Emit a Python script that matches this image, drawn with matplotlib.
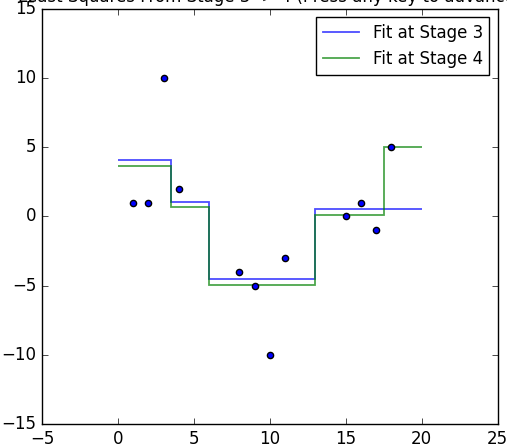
import matplotlib
matplotlib.use("Agg")
import matplotlib.pyplot as plt
import numpy as np

plt.style.use('classic')

x_pts = [1, 2, 3, 4, 8, 9, 10, 11, 15, 16, 17, 18]
y_pts = [1, 1, 10, 2, -4, -5, -10, -3, 0, 1, -1, 5]

edges3 = [0, 3.5, 6, 13, 20]
levels3 = [4.05, 1.05, -4.55, 0.52]
edges4 = [0, 3.5, 6, 13, 17.5, 20]
levels4 = [3.62, 0.7, -4.97, 0.12, 5.02]

fig = plt.figure(figsize=(5.07, 4.44), dpi=100, facecolor='white')
ax = fig.add_axes([0.0828, 0.045, 0.899, 0.935])
ax.set_facecolor('white')

ax.stairs(levels3, edges3, baseline=None, color='b', alpha=0.7, lw=1.3, label='Fit at Stage 3')
ax.stairs(levels4, edges4, baseline=None, color='g', alpha=0.7, lw=1.3, label='Fit at Stage 4')
ax.scatter(x_pts, y_pts, s=20, c='b', edgecolors='k', zorder=3)

ax.set_xlim(-5, 25)
ax.set_ylim(-15, 15)
ax.set_xticks([-5, 0, 5, 10, 15, 20, 25])
ax.set_yticks([-15, -10, -5, 0, 5, 10, 15])
ax.set_title('Least Squares From Stage 3 -> 4 (Press any key to advance)', fontsize=12)
ax.legend(loc='upper right', fontsize=12, handlelength=2.2)

fig.savefig('out.png', dpi=100, facecolor='white')
